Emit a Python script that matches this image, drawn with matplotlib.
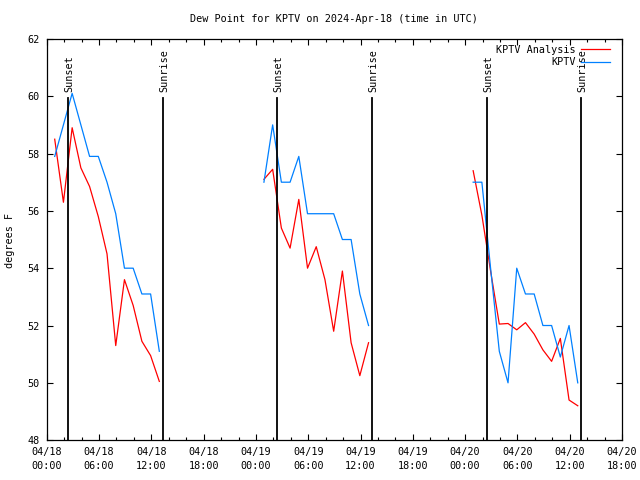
import pandas as pd
import matplotlib
matplotlib.use("Agg")
import matplotlib.pyplot as plt
import matplotlib.dates as mdates

# hourly obs (taken at :55) for three overnight stretches
seg_starts = ["2024-04-18 00:55", "2024-04-19 00:55", "2024-04-20 00:55"]

analysis = [
    [58.5, 56.3, 58.9, 57.5, 56.85, 55.8, 54.5, 51.3, 53.6, 52.7, 51.45, 50.95, 50.05],
    [57.1, 57.45, 55.4, 54.7, 56.4, 54.0, 54.75, 53.6, 51.8, 53.9, 51.4, 50.25, 51.4],
    [57.4, 55.85, 53.9, 52.05, 52.07, 51.85, 52.1, 51.7, 51.15, 50.75, 51.55, 49.4, 49.2],
]
observed = [
    [57.9, 59.0, 60.1, 59.0, 57.9, 57.9, 57.0, 55.9, 54.0, 54.0, 53.1, 53.1, 51.1],
    [57.0, 59.0, 57.0, 57.0, 57.9, 55.9, 55.9, 55.9, 55.9, 55.0, 55.0, 53.1, 52.0],
    [57.0, 57.0, 54.0, 51.1, 50.0, 54.0, 53.1, 53.1, 52.0, 52.0, 50.9, 52.0, 50.0],
]

sunsets = ["2024-04-18 02:24", "2024-04-19 02:27", "2024-04-20 02:28"]
sunrises = ["2024-04-18 13:17", "2024-04-19 13:17", "2024-04-20 13:15"]

FONT = "DejaVu Sans Mono"
FS = 7.3
plt.rcParams['font.family'] = FONT
plt.rcParams['font.size'] = FS

fig = plt.figure(figsize=(6.4, 4.8), dpi=100)
ax = fig.add_axes([0.073, 0.083, 0.899, 0.836])

for i, start in enumerate(seg_starts):
    t = pd.date_range(start, periods=len(analysis[i]), freq="h")
    ax.plot(t, analysis[i], color="#ff0000", lw=0.9,
            label="KPTV Analysis" if i == 0 else None)
    ax.plot(t, observed[i], color="#0080ff", lw=0.9,
            label="KPTV" if i == 0 else None)

for name, times in (("Sunset", sunsets), ("Sunrise", sunrises)):
    for s in times:
        ts = pd.Timestamp(s)
        ax.plot([ts, ts], [48, 59.95], color="black", lw=1.3)
        ax.text(ts + pd.Timedelta(minutes=10), 60.15, name, rotation=90,
                ha="center", va="bottom", fontsize=FS)

ax.set_xlim(pd.Timestamp("2024-04-18 00:00"), pd.Timestamp("2024-04-20 18:00"))
ax.set_ylim(48, 62)
ax.set_yticks(range(48, 63, 2))

ax.xaxis.set_major_locator(mdates.HourLocator(byhour=[0, 6, 12, 18]))
ax.xaxis.set_minor_locator(mdates.HourLocator(byhour=range(0, 24, 2)))
ax.xaxis.set_major_formatter(mdates.DateFormatter("%m/%d\n%H:%M"))

ax.tick_params(which="both", direction="in", top=True, right=True, labelsize=FS, pad=5)
ax.tick_params(which="major", length=4.5, width=0.8)
ax.tick_params(which="minor", length=2.5, width=0.8)
for sp in ax.spines.values():
    sp.set_linewidth(0.9)

fig.text(0.522, 0.960, "Dew Point for KPTV on 2024-Apr-18 (time in UTC)",
         ha="center", va="center", fontsize=FS)
fig.text(0.016, 0.5, "degrees F", rotation=90, ha="center", va="center", fontsize=FS)

ax.legend(loc="upper right", frameon=False, markerfirst=False, fontsize=FS,
          handlelength=2.85, handletextpad=0.55, labelspacing=0.25,
          borderaxespad=0.2, bbox_to_anchor=(0.99, 1.0))

# two-line date labels need a bit more room between lines
fig.canvas.draw()
for tick in ax.xaxis.get_major_ticks():
    tick.label1.set_linespacing(1.45)

fig.savefig("out.png", dpi=100)
